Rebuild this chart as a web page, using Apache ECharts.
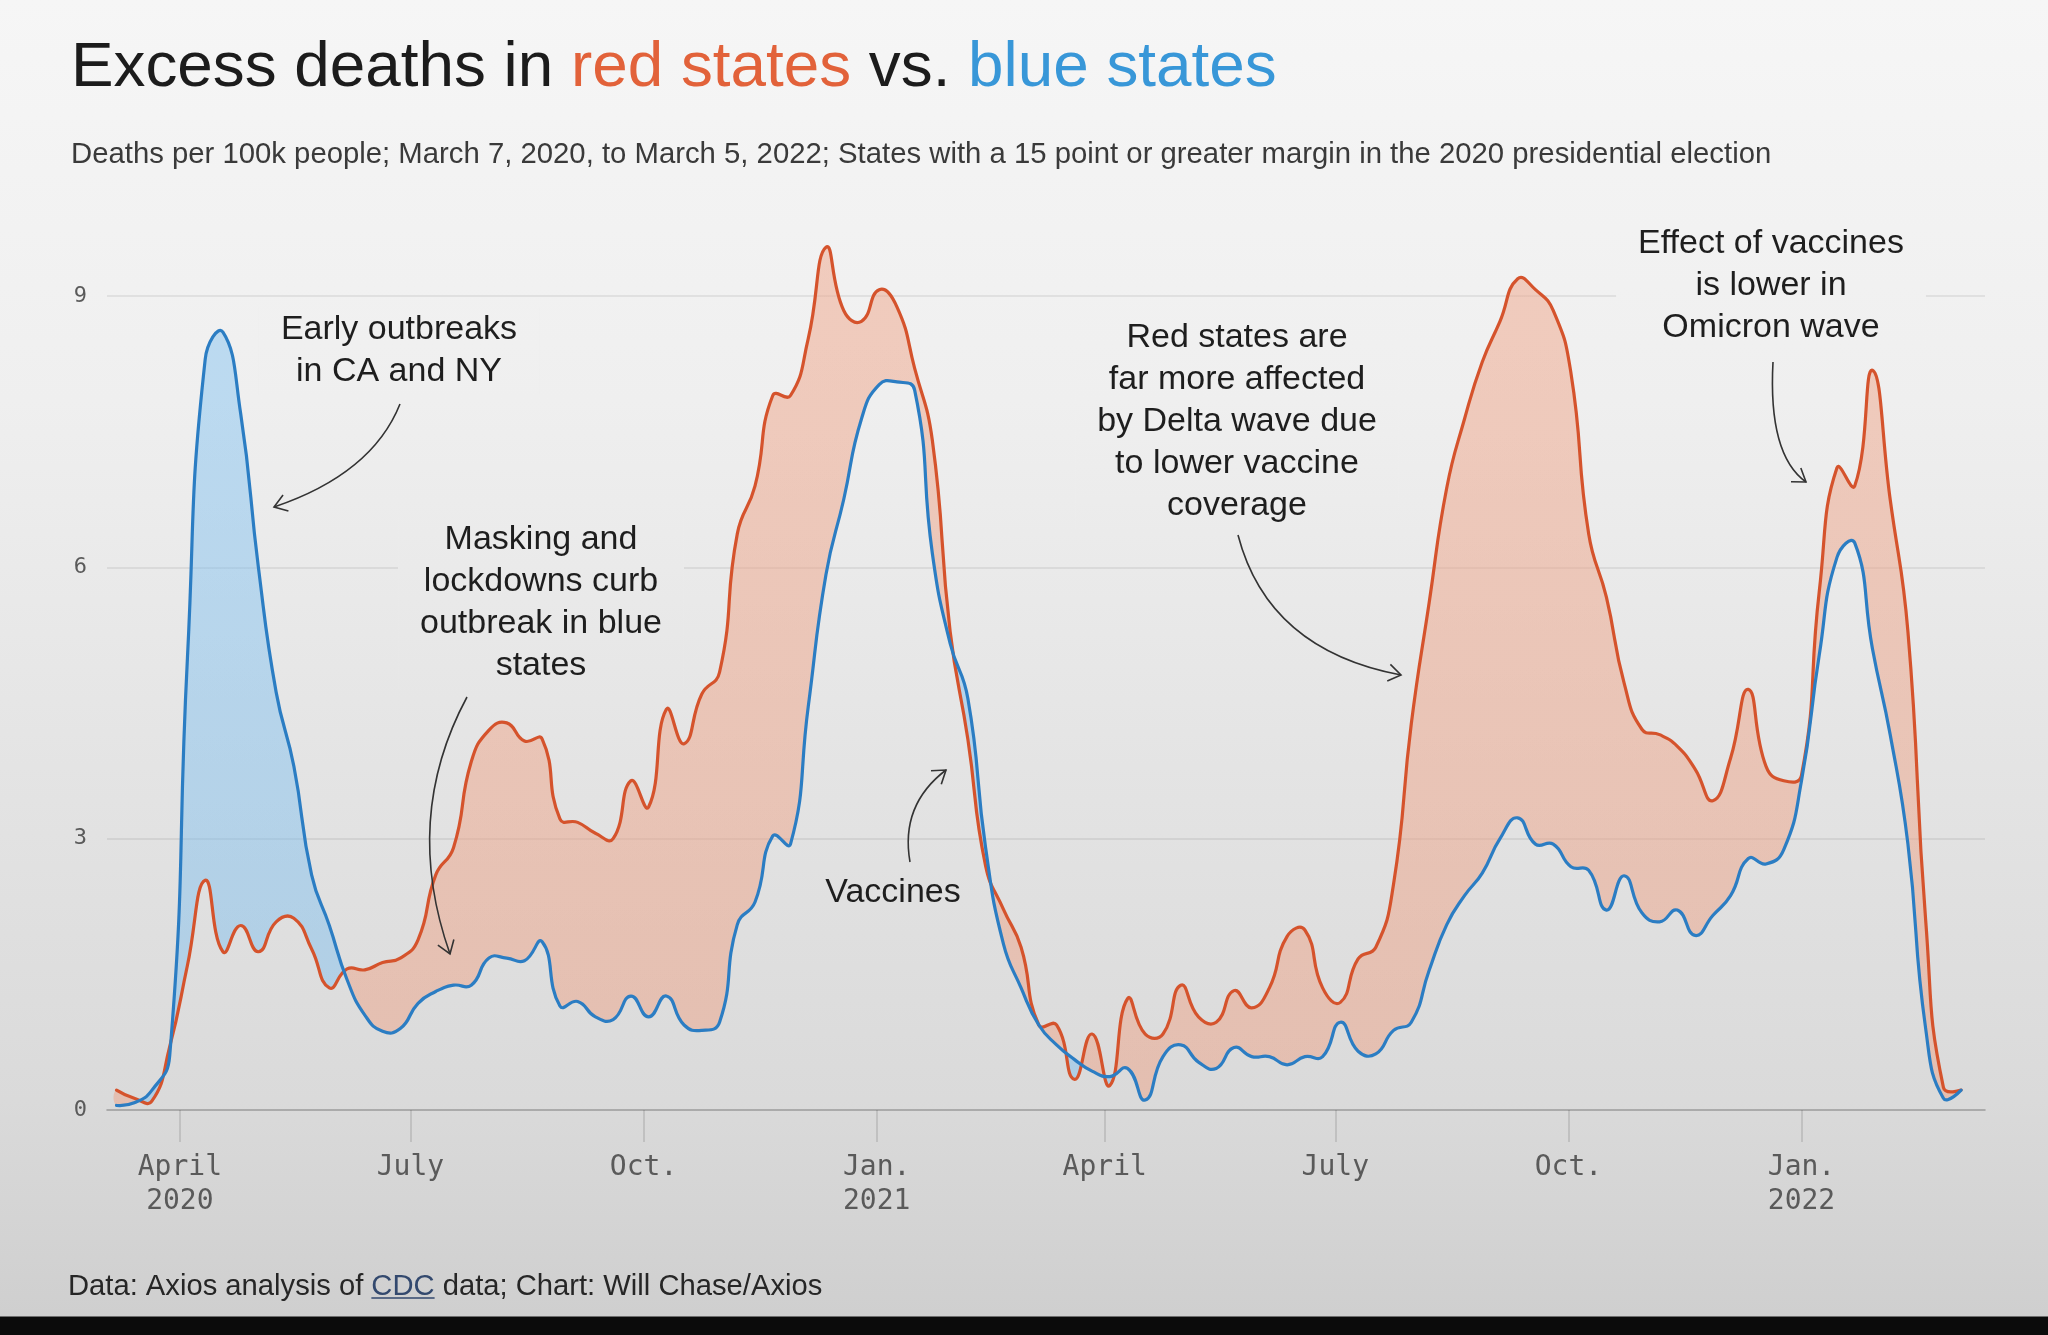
<!DOCTYPE html>
<html>
<head>
<meta charset="utf-8">
<title>Excess deaths in red states vs. blue states</title>
<script src="https://cdn.jsdelivr.net/npm/echarts@6/dist/echarts.min.js"></script>
<style>
  html, body { margin: 0; padding: 0; background: #0b0b0b; }
  #chart {
    width: 2048px;
    height: 1335px;
    background: linear-gradient(to bottom, #f6f6f6 0px, #efefef 400px, #e6e6e6 700px, #dadada 1100px, #cfcfcf 1316px, #0b0b0b 1317px, #0b0b0b 1335px);
  }
</style>
</head>
<body>
<div id="chart"></div>
<script>
// weekly excess deaths per 100k people, first week ends March 7, 2020
const firstWeek = '2020-03-07'
const redStates = [
  0.22, 0.13, 0.10, 0.70, 1.60, 2.54, 1.75, 2.04, 1.75, 2.08,
  2.12, 1.78, 1.35, 1.56, 1.55, 1.63, 1.68, 1.88, 2.60, 2.90,
  3.85, 4.20, 4.28, 4.08, 4.10, 3.22, 3.18, 3.06, 3.00, 3.64,
  3.35, 4.43, 4.05, 4.60, 4.84, 6.37, 6.90, 7.90, 7.90, 8.53,
  9.54, 8.84, 8.72, 9.07, 8.88, 8.20, 7.40, 5.29, 4.10, 2.70,
  2.22, 1.80, 0.94, 0.94, 0.34, 0.84, 0.27, 1.23, 0.84, 0.84,
  1.38, 1.03, 0.97, 1.32, 1.13, 1.35, 1.92, 1.99, 1.35, 1.19,
  1.67, 1.80, 2.50, 4.27, 5.60, 6.88, 7.64, 8.27, 8.72, 9.19,
  9.07, 8.84, 8.15, 6.37, 5.67, 4.72, 4.21, 4.15, 4.02, 3.77,
  3.42, 3.89, 4.65, 3.80, 3.64, 3.70, 5.73, 7.10, 6.90, 8.18,
  6.75, 5.29, 2.10, 0.25, 0.22
]
const blueStates = [
  0.05, 0.08, 0.22, 0.60, 5.00, 8.30, 8.60, 7.70, 6.00, 4.62,
  3.80, 2.60, 2.04, 1.44, 1.05, 0.87, 0.90, 1.18, 1.31, 1.38,
  1.38, 1.68, 1.68, 1.65, 1.86, 1.15, 1.20, 1.03, 1.00, 1.26,
  1.03, 1.26, 0.94, 0.88, 0.97, 2.05, 2.30, 3.03, 2.94, 4.46,
  5.92, 6.75, 7.64, 8.02, 8.05, 7.96, 6.15, 5.16, 4.55, 2.90,
  1.84, 1.35, 0.94, 0.72, 0.56, 0.43, 0.37, 0.46, 0.11, 0.59,
  0.72, 0.53, 0.46, 0.69, 0.59, 0.59, 0.50, 0.59, 0.59, 0.97,
  0.65, 0.62, 0.88, 0.97, 1.54, 2.05, 2.37, 2.62, 3.00, 3.23,
  2.94, 2.94, 2.69, 2.65, 2.21, 2.59, 2.18, 2.08, 2.21, 1.93,
  2.15, 2.37, 2.78, 2.72, 2.88, 3.64, 5.03, 6.11, 6.27, 5.10,
  4.15, 2.94, 0.90, 0.13, 0.22
]
const tickDates = ['2020-04-01', '2020-07-01', '2020-10-01', '2021-01-01', '2021-04-01', '2021-07-01', '2021-10-01', '2022-01-01']
const tickLabels = ['April\n2020', 'July', 'Oct.', 'Jan.\n2021', 'April', 'July', 'Oct.', 'Jan.\n2022']
const yTicks = [0, 3, 6, 9]

const RED = '#d5532c'
const BLUE = '#2b7dc3'
const RED_FILL = 'rgba(239,157,126,0.45)'
const BLUE_FILL = 'rgba(116,188,241,0.42)'
const SANS = '"Liberation Sans", Arial, sans-serif'
const MONO = '"DejaVu Sans Mono", monospace'
const DAY = 86400000
const SMOOTH = 0.5

const t0 = Date.parse(firstWeek)
const weeks = redStates.map((v, i) => t0 + i * 7 * DAY)
const tickTimes = tickDates.map(d => Date.parse(d))
const gap = redStates.map((v, i) => v - blueStates[i])

// fill colour switches where the two lines cross
const span = weeks[weeks.length - 1] - weeks[0]
let cur = gap[0] >= 0 ? RED_FILL : BLUE_FILL
const fillStops = [{ offset: 0, color: cur }]
for (let i = 0; i < gap.length - 1; i++) {
  if ((gap[i] >= 0) !== (gap[i + 1] >= 0)) {
    const t = gap[i] / (gap[i] - gap[i + 1])
    const off = (weeks[i] - weeks[0] + t * 7 * DAY) / span
    fillStops.push({ offset: off, color: cur })
    cur = cur === RED_FILL ? BLUE_FILL : RED_FILL
    fillStops.push({ offset: off, color: cur })
  }
}
fillStops.push({ offset: 1, color: cur })

// same stops as the css page background, for the halos behind notes
function pageGradient() {
  return new echarts.graphic.LinearGradient(0, 0, 0, 1316, [
    { offset: 0, color: '#f6f6f6' },
    { offset: 400 / 1316, color: '#efefef' },
    { offset: 700 / 1316, color: '#e6e6e6' },
    { offset: 1100 / 1316, color: '#dadada' },
    { offset: 1, color: '#cfcfcf' }
  ], true)
}

const ctx = document.createElement('canvas').getContext('2d')
function textWidth(text, font) {
  ctx.font = font
  return ctx.measureText(text).width
}
function fitSize(text, target) {
  return Math.round(100 * target / textWidth(text, '100px ' + SANS) * 10) / 10
}

const titleText = 'Excess deaths in red states vs. blue states'
const subText = 'Deaths per 100k people; March 7, 2020, to March 5, 2022; States with a 15 point or greater margin in the 2020 presidential election'
const footA = 'Data: Axios analysis of '
const footB = 'CDC'
const footC = ' data; Chart: Will Chase/Axios'

const titleSize = fitSize(titleText, 1205)
const subSize = fitSize(subText, 1702)
const footSize = fitSize(footA + footB + footC, 755)
const footFont = footSize + 'px ' + SANS
const cdcX = 68 + textWidth(footA, footFont)
const cdcW = textWidth(footB, footFont)

const noteFont = '34px ' + SANS
const noteLine = 42
const notes = [
  { text: 'Early outbreaks\nin CA and NY', x: 399, y: 351, halo: true },
  { text: 'Masking and\nlockdowns curb\noutbreak in blue\nstates', x: 541, y: 603, halo: true },
  { text: 'Vaccines', x: 893, y: 893, halo: false },
  { text: 'Red states are\nfar more affected\nby Delta wave due\nto lower vaccine\ncoverage', x: 1237, y: 422, halo: true },
  { text: 'Effect of vaccines\nis lower in\nOmicron wave', x: 1771, y: 286, halo: true }
]
const arrows = [
  { from: [400, 404], ctrl: [372, 474], to: [274, 507] },
  { from: [467, 697], ctrl: [402, 818], to: [450, 954] },
  { from: [910, 862], ctrl: [900, 805], to: [946, 770] },
  { from: [1238, 535], ctrl: [1268, 650], to: [1401, 675] },
  { from: [1773, 362], ctrl: [1768, 455], to: [1806, 482] }
]

const graphics = [
  {
    type: 'text', x: 71, y: 68, z: 100,
    style: {
      text: '{k|Excess deaths in }{r|red states}{k| vs. }{b|blue states}',
      font: titleSize + 'px ' + SANS,
      verticalAlign: 'middle',
      rich: {
        k: { fill: '#1c1c1c', font: titleSize + 'px ' + SANS },
        r: { fill: '#e2623a', font: titleSize + 'px ' + SANS },
        b: { fill: '#3897d8', font: titleSize + 'px ' + SANS }
      }
    }
  },
  {
    type: 'text', x: 71, y: 155, z: 100,
    style: { text: subText, font: subSize + 'px ' + SANS, fill: '#3a3a3a', verticalAlign: 'middle' }
  },
  {
    type: 'text', x: 68, y: 1287, z: 100,
    style: {
      text: '{k|' + footA + '}{l|' + footB + '}{k|' + footC + '}',
      font: footFont,
      verticalAlign: 'middle',
      rich: {
        k: { fill: '#262626', font: footFont },
        l: { fill: '#33496e', font: footFont }
      }
    }
  },
  {
    type: 'line', z: 100,
    shape: { x1: cdcX, y1: 1298, x2: cdcX + cdcW, y2: 1298 },
    style: { stroke: '#33496e', lineWidth: 1.5 }
  }
]

notes.forEach(n => {
  const lines = n.text.split('\n')
  if (n.halo) {
    const w = Math.max.apply(null, lines.map(l => textWidth(l, noteFont))) + 44
    const h = lines.length * noteLine + 4
    graphics.push({
      type: 'rect', z: 90, silent: true,
      shape: { x: n.x - w / 2, y: n.y - h / 2, width: w, height: h },
      style: { fill: pageGradient() }
    })
  }
  graphics.push({
    type: 'text', x: n.x, y: n.y, z: 100,
    style: {
      text: n.text, font: noteFont, fill: '#1e1e1e',
      align: 'center', verticalAlign: 'middle', lineHeight: noteLine
    }
  })
})

arrows.forEach(a => {
  graphics.push({
    type: 'bezierCurve', z: 100,
    shape: { x1: a.from[0], y1: a.from[1], x2: a.to[0], y2: a.to[1], cpx1: a.ctrl[0], cpy1: a.ctrl[1] },
    style: { stroke: '#333', lineWidth: 1.6, fill: null }
  })
  const ang = Math.atan2(a.to[1] - a.ctrl[1], a.to[0] - a.ctrl[0])
  const len = 15, spread = 0.6
  graphics.push({
    type: 'polyline', z: 100,
    shape: {
      points: [
        [a.to[0] - len * Math.cos(ang - spread), a.to[1] - len * Math.sin(ang - spread)],
        a.to,
        [a.to[0] - len * Math.cos(ang + spread), a.to[1] - len * Math.sin(ang + spread)]
      ]
    },
    style: { stroke: '#333', lineWidth: 1.6, fill: null }
  })
})

// both lines and the band between them, drawn once with the same smoothing
function renderBand(params, api) {
  if (params.dataIndex !== 0) return null
  const redPts = weeks.map((t, i) => api.coord([t, redStates[i]]))
  const bluePts = weeks.map((t, i) => api.coord([t, blueStates[i]]))
  const x0 = redPts[0][0]
  const x1 = redPts[redPts.length - 1][0]
  return {
    type: 'group',
    children: [
      {
        type: 'polygon', z2: 1,
        shape: { points: redPts.concat(bluePts.slice().reverse()), smooth: SMOOTH },
        style: { fill: new echarts.graphic.LinearGradient(x0, 0, x1, 0, fillStops, true), stroke: null }
      },
      {
        type: 'polyline', z2: 2,
        shape: { points: redPts, smooth: SMOOTH },
        style: { stroke: RED, lineWidth: 3.2, fill: null, lineJoin: 'round', lineCap: 'round' }
      },
      {
        type: 'polyline', z2: 3,
        shape: { points: bluePts, smooth: SMOOTH },
        style: { stroke: BLUE, lineWidth: 3.2, fill: null, lineJoin: 'round', lineCap: 'round' }
      }
    ]
  }
}

const chart = echarts.init(document.getElementById('chart'), null, { width: 2048, height: 1335 })

chart.setOption({
  animation: false,
  backgroundColor: 'transparent',
  grid: { left: 107, right: 63, top: 296, bottom: 225, outerBoundsMode: 'none' },
  xAxis: {
    type: 'value',
    min: Date.UTC(2020, 2, 3, 6),
    max: Date.UTC(2022, 2, 14, 10),
    axisLine: { show: true, lineStyle: { color: 'rgba(0,0,0,0.16)', width: 2 } },
    axisTick: {
      show: true,
      customValues: tickTimes,
      length: 32,
      lineStyle: { color: 'rgba(0,0,0,0.15)', width: 1.5 }
    },
    axisLabel: {
      customValues: tickTimes,
      margin: 41,
      fontFamily: MONO,
      fontSize: 28,
      lineHeight: 34,
      color: '#5a5a5a',
      formatter: function (val) {
        let best = 0
        tickTimes.forEach((t, i) => {
          if (Math.abs(t - val) < Math.abs(tickTimes[best] - val)) best = i
        })
        return tickLabels[best]
      }
    },
    splitLine: { show: false },
    minorTick: { show: false }
  },
  yAxis: {
    type: 'value',
    min: yTicks[0],
    max: yTicks[yTicks.length - 1],
    interval: 3,
    axisLine: { show: false },
    axisTick: { show: false },
    axisLabel: { margin: 20, fontFamily: MONO, fontSize: 22, color: '#5a5a5a' },
    splitLine: { lineStyle: { color: 'rgba(0,0,0,0.09)', width: 1.5 } }
  },
  series: [
    {
      name: 'Excess deaths',
      type: 'custom',
      coordinateSystem: 'cartesian2d',
      silent: true,
      clip: false,
      z: 3,
      data: weeks.map((t, i) => [t, redStates[i], blueStates[i]]),
      encode: { x: 0, y: [1, 2] },
      renderItem: renderBand
    }
  ],
  graphic: graphics
})
</script>
</body>
</html>
